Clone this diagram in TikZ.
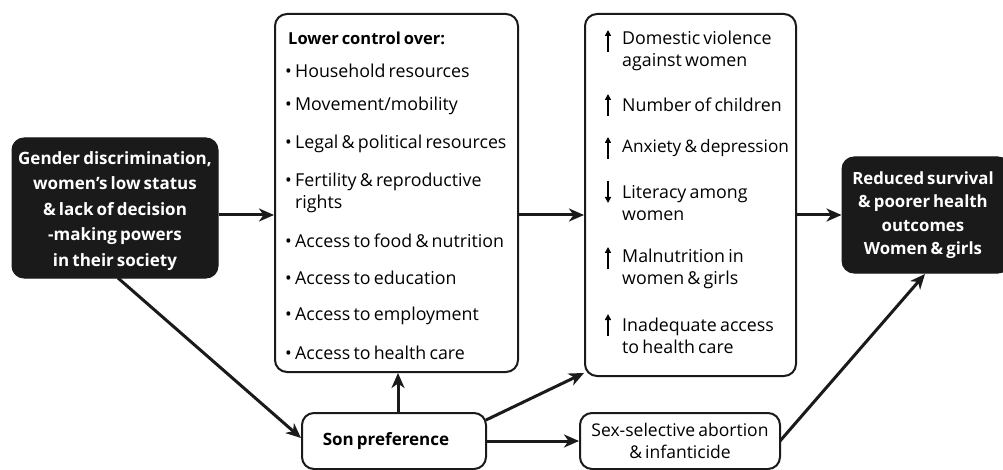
\documentclass[tikz,border=0pt]{standalone}
\usepackage{fontspec}
\setmainfont{Open Sans}[WordSpace=0.7]
\usetikzlibrary{arrows.meta}
\definecolor{boxblack}{HTML}{1A1A1A}
\tikzset{
  darkbox/.style={draw=boxblack, fill=boxblack, rounded corners=12pt, line width=1pt},
  lightbox/.style={draw=boxblack, fill=white, rounded corners=12pt, line width=2pt},
  conn/.style={line width=3pt, draw=boxblack, -{Stealth[length=15pt,width=13pt,inset=4.5pt]}},
  upar/.style={line width=1.6pt, -{Triangle[length=6pt,width=6pt]}},
  item/.style={anchor=west, font=\fontsize{17.8}{21.5}\selectfont, inner sep=0pt, align=left},
  bitem/.style={font=\fontsize{17}{25.5}\selectfont\bfseries, text=white, align=center, inner sep=0pt}
}
\begin{document}
\begin{tikzpicture}[x=1pt,y=-1pt]
\useasboundingbox (0,0) rectangle (1003,470);
% boxes
\node[darkbox, minimum width=206pt, minimum height=140pt] (src) at (115,208) {};
\node[bitem] at (115,211) {Gender discrimination,\\women’s low status\\\& lack of decision\\-making powers\\in their society};
\node[lightbox, minimum width=243pt, minimum height=358pt] (ctrl) at (396.5,193) {};
\node[lightbox, minimum width=211pt, minimum height=362pt] (eff) at (690.5,195) {};
\node[darkbox, minimum width=168pt, minimum height=116pt] (out) at (926,215) {};
\node[bitem, font=\fontsize{16.8}{23.5}\selectfont\bfseries] at (923,215) {Reduced survival\\\& poorer health\\outcomes\\Women \& girls};
\node[lightbox, minimum width=184pt, minimum height=56pt] (son) at (394,441) {};
\node[font=\fontsize{17}{20}\selectfont\bfseries] at (386,441) {Son preference};
\node[lightbox, minimum width=200pt, minimum height=56pt, align=center, font=\fontsize{17.5}{22}\selectfont] (sex) at (680,441) {Sex-selective abortion\\\& infanticide};
% middle list
\node[item, font=\fontsize{16.5}{20}\selectfont\bfseries] at (288,38) {Lower control over:};
\node[item] at (285,71) {• Household resources};
\node[item] at (285,106) {• Movement/mobility};
\node[item] at (285,144) {• Legal \& political resources};
\node[item] at (285,193) {• Fertility \& reproductive\\\hphantom{• }rights};
\node[item] at (285,241) {• Access to food \& nutrition};
\node[item] at (285,278) {• Access to education};
\node[item] at (285,316) {• Access to employment};
\node[item] at (285,353) {• Access to health care};
% right list
\node[item] (e1) at (622,51) {Domestic violence\\against women};
\node[item] (e2) at (622,105) {Number of children};
\node[item, font=\fontsize{17.2}{21.5}\selectfont] (e3) at (622,148) {Anxiety \& depression};
\node[item] (e4) at (622,203) {Literacy among\\women};
\node[item] (e5) at (622,269) {Malnutrition in\\women \& girls};
\node[item] (e6) at (622,336) {Inadequate access\\to health care};
\draw[upar] (608,52) -- (608,30);
\draw[upar] (608,116) -- (608,94);
\draw[upar] (608,159) -- (608,137);
\draw[upar] (608,181) -- (608,203);
\draw[upar] (608,269) -- (608,247);
\draw[upar] (608,336) -- (608,314);
% connectors
\draw[conn] (src.east |- 0,215) -- (ctrl.west |- 0,215);
\draw[conn] (ctrl.east |- 0,215) -- (eff.west |- 0,215);
\draw[conn] (eff.east |- 0,215) -- (out.west |- 0,215);
\draw[conn] (118,278) -- (son.west |- 0,438);
\draw[conn] (son.north -| 398,0) -- (ctrl.south -| 398,0);
\draw[conn] (486,420) -- (584,373);
\draw[conn] (son.east |- 0,441) -- (sex.west |- 0,441);
\draw[conn] (780,441) -- (925,274);
\end{tikzpicture}
\end{document}
